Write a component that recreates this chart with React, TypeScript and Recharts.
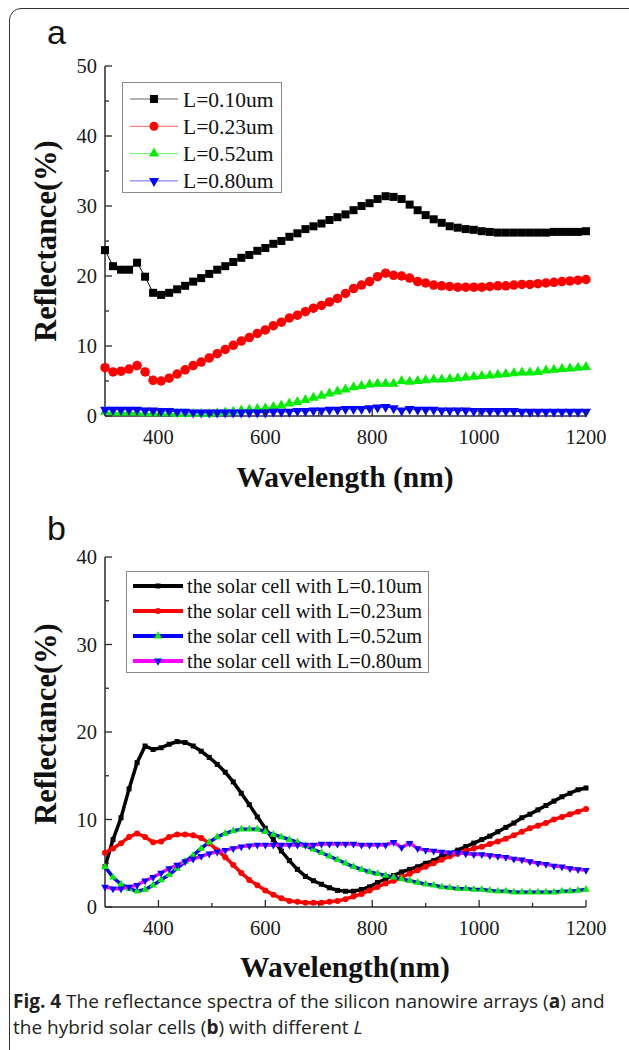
import React from 'react';
import { LineChart, Line, XAxis, YAxis } from 'recharts';

// ---------- data ----------
const wavelengths = [300, 315, 330, 345, 360, 375, 390, 405, 420, 435, 450, 465, 480, 495, 510, 525, 540, 555, 570, 585, 600, 615, 630, 645, 660, 675, 690, 705, 720, 735, 750, 765, 780, 795, 810, 825, 840, 855, 870, 885, 900, 915, 930, 945, 960, 975, 990, 1005, 1020, 1035, 1050, 1065, 1080, 1095, 1110, 1125, 1140, 1155, 1170, 1185, 1200];

// panel a: silicon nanowire arrays
const arrL010 = [23.7, 21.4, 20.9, 20.9, 21.9, 19.9, 17.6, 17.3, 17.6, 18.1, 18.6, 19.2, 19.7, 20.3, 20.9, 21.4, 22.0, 22.6, 23.0, 23.6, 24.0, 24.6, 25.0, 25.6, 26.1, 26.7, 27.1, 27.5, 28.0, 28.4, 28.8, 29.4, 30.0, 30.4, 31.0, 31.4, 31.3, 31.0, 30.2, 29.4, 28.7, 28.1, 27.6, 27.1, 26.9, 26.7, 26.6, 26.4, 26.3, 26.2, 26.2, 26.2, 26.2, 26.2, 26.2, 26.2, 26.3, 26.3, 26.3, 26.3, 26.4];
const arrL023 = [6.9, 6.3, 6.4, 6.7, 7.2, 6.3, 5.1, 5.0, 5.4, 6.0, 6.6, 7.2, 7.7, 8.3, 8.9, 9.5, 10.1, 10.7, 11.2, 11.8, 12.3, 12.9, 13.4, 14.0, 14.4, 14.9, 15.4, 15.8, 16.3, 16.8, 17.5, 18.2, 18.7, 19.2, 19.9, 20.4, 20.1, 20.0, 19.7, 19.2, 19.0, 18.7, 18.6, 18.5, 18.4, 18.4, 18.4, 18.4, 18.5, 18.6, 18.6, 18.7, 18.8, 18.8, 18.9, 19.0, 19.1, 19.2, 19.3, 19.4, 19.5];
const arrL052 = [0.6, 0.5, 0.5, 0.5, 0.5, 0.4, 0.4, 0.4, 0.4, 0.3, 0.3, 0.3, 0.3, 0.3, 0.4, 0.5, 0.6, 0.8, 0.9, 1.0, 1.1, 1.3, 1.5, 1.8, 2.0, 2.3, 2.6, 2.9, 3.2, 3.5, 3.8, 4.1, 4.3, 4.5, 4.6, 4.6, 4.6, 5.0, 4.9, 5.0, 5.1, 5.2, 5.2, 5.3, 5.4, 5.5, 5.6, 5.7, 5.8, 5.9, 6.0, 6.1, 6.2, 6.2, 6.3, 6.5, 6.6, 6.7, 6.8, 6.9, 7.0];
const arrL080 = [0.9, 0.9, 0.9, 0.9, 0.9, 0.8, 0.8, 0.7, 0.7, 0.6, 0.6, 0.5, 0.5, 0.5, 0.5, 0.5, 0.5, 0.5, 0.5, 0.5, 0.5, 0.6, 0.6, 0.6, 0.7, 0.7, 0.8, 0.8, 0.9, 0.9, 1.0, 1.0, 1.0, 1.1, 1.2, 1.3, 1.1, 0.8, 1.0, 0.9, 0.9, 0.9, 0.8, 0.8, 0.8, 0.8, 0.7, 0.7, 0.7, 0.7, 0.7, 0.7, 0.6, 0.6, 0.6, 0.6, 0.6, 0.6, 0.6, 0.6, 0.6];

// panel b: hybrid solar cells
const cellL010 = [4.6, 7.7, 10.2, 13.5, 16.5, 18.4, 18.0, 18.2, 18.6, 18.9, 18.8, 18.4, 17.8, 17.1, 16.3, 15.4, 14.3, 13.0, 11.7, 10.3, 9.0, 7.7, 6.4, 5.3, 4.3, 3.5, 3.0, 2.6, 2.2, 1.9, 1.8, 1.8, 2.0, 2.3, 2.8, 3.2, 3.6, 4.0, 4.3, 4.6, 5.0, 5.3, 5.8, 6.1, 6.5, 6.9, 7.3, 7.7, 8.1, 8.6, 9.1, 9.6, 10.2, 10.6, 11.1, 11.6, 12.1, 12.6, 13.0, 13.4, 13.6];
const cellL023 = [6.2, 6.7, 7.3, 8.0, 8.4, 8.0, 7.4, 7.5, 8.0, 8.3, 8.3, 8.2, 7.9, 7.3, 6.5, 5.7, 4.8, 3.9, 3.1, 2.5, 1.9, 1.4, 1.0, 0.7, 0.6, 0.5, 0.5, 0.5, 0.6, 0.7, 0.9, 1.2, 1.5, 1.9, 2.3, 2.7, 3.0, 3.4, 3.8, 4.2, 4.6, 5.0, 5.4, 5.8, 6.1, 6.4, 6.7, 6.9, 7.2, 7.5, 7.8, 8.2, 8.6, 9.0, 9.3, 9.6, 10.0, 10.3, 10.6, 10.9, 11.2];
const cellL052 = [4.6, 3.4, 2.6, 2.1, 1.8, 2.0, 2.5, 3.1, 3.7, 4.4, 5.2, 5.9, 6.7, 7.4, 8.0, 8.4, 8.7, 8.9, 8.9, 8.9, 8.6, 8.3, 8.0, 7.7, 7.4, 7.0, 6.6, 6.2, 5.8, 5.4, 5.0, 4.6, 4.3, 4.0, 3.8, 3.6, 3.4, 3.2, 3.0, 2.8, 2.6, 2.5, 2.3, 2.2, 2.1, 2.1, 2.0, 2.0, 1.9, 1.8, 1.8, 1.7, 1.7, 1.7, 1.7, 1.7, 1.7, 1.8, 1.8, 1.9, 2.0];
const cellL080 = [2.3, 2.1, 2.1, 2.3, 2.5, 3.0, 3.4, 3.9, 4.4, 4.8, 5.2, 5.5, 5.8, 6.1, 6.3, 6.5, 6.7, 6.9, 7.0, 7.1, 7.1, 7.1, 7.1, 7.1, 7.1, 7.1, 7.1, 7.2, 7.2, 7.2, 7.2, 7.2, 7.1, 7.1, 7.1, 7.1, 7.4, 6.8, 7.3, 6.7, 6.5, 6.4, 6.3, 6.2, 6.2, 6.1, 6.0, 6.0, 5.9, 5.8, 5.7, 5.5, 5.4, 5.2, 5.0, 4.9, 4.7, 4.6, 4.4, 4.3, 4.2];

const seriesNamesA = ['L=0.10um', 'L=0.23um', 'L=0.52um', 'L=0.80um'];
const seriesNamesB = [
  'the solar cell with L=0.10um',
  'the solar cell with L=0.23um',
  'the solar cell with L=0.52um',
  'the solar cell with L=0.80um',
];
const xTicks = [400, 500, 600, 700, 800, 900, 1000, 1100, 1200];
const yTicksA = [0, 5, 10, 15, 20, 25, 30, 35, 40, 45, 50];
const yTicksB = [0, 5, 10, 15, 20, 25, 30, 35, 40];

const rowsA = wavelengths.map((w, i) => ({ w, s1: arrL010[i], s2: arrL023[i], s3: arrL052[i], s4: arrL080[i] }));
const rowsB = wavelengths.map((w, i) => ({ w, s1: cellL010[i], s2: cellL023[i], s3: cellL052[i], s4: cellL080[i] }));

// ---------- styles ----------
const AXIS = '#2b2b2b';
const SERIF = '"Liberation Serif", "Times New Roman", serif';
const SANS = '"Liberation Sans", Arial, sans-serif';

type Shape = 'square' | 'circle' | 'up' | 'down';

const styleA = [
  { key: 's1', line: '#000000', fill: '#000000', shape: 'square' as Shape },
  { key: 's2', line: '#ff0000', fill: '#ff0000', shape: 'circle' as Shape },
  { key: 's3', line: '#00ee00', fill: '#00ee00', shape: 'up' as Shape },
  { key: 's4', line: '#0000ff', fill: '#0000ff', shape: 'down' as Shape },
];
const styleB = [
  { key: 's1', line: '#000000', fill: '#000000', shape: 'square' as Shape },
  { key: 's2', line: '#ff0000', fill: '#ff0000', shape: 'circle' as Shape },
  { key: 's3', line: '#0000ff', fill: '#00ee00', shape: 'up' as Shape },
  { key: 's4', line: '#ff00ff', fill: '#0000ff', shape: 'down' as Shape },
];

function markerEl(shape: Shape, cx: number, cy: number, s: number, fill: string, key?: string) {
  if (shape === 'square') return <rect key={key} x={cx - s / 2} y={cy - s / 2} width={s} height={s} fill={fill} />;
  if (shape === 'circle') return <circle key={key} cx={cx} cy={cy} r={s / 2} fill={fill} />;
  const h = s * 0.9;
  if (shape === 'up')
    return <path key={key} d={`M${cx},${cy - (h * 2) / 3} L${cx + s / 2},${cy + h / 3} L${cx - s / 2},${cy + h / 3} Z`} fill={fill} />;
  return <path key={key} d={`M${cx},${cy + (h * 2) / 3} L${cx + s / 2},${cy - h / 3} L${cx - s / 2},${cy - h / 3} Z`} fill={fill} />;
}

const makeDot = (shape: Shape, size: number, fill: string) => (p: any) => {
  if (p.cx == null || p.cy == null) return <g key={`e${p.index}`} />;
  return markerEl(shape, p.cx, p.cy, size, fill, `d${p.index}`);
};

const makeYTick = (majorStep: number) => (props: any) => {
  const { x, y, payload } = props;
  const v = payload.value;
  const major = v % majorStep === 0;
  return (
    <g>
      <line x1={x} x2={x + (major ? 7 : 4)} y1={y} y2={y} stroke={AXIS} strokeWidth={1.3} />
      {major && (
        <text x={x - 8} y={y} dy="0.35em" textAnchor="end" fontFamily={SERIF} fontSize={20.5} fill="#1a1a1a">
          {v}
        </text>
      )}
    </g>
  );
};

const XTick = (props: any) => {
  const { x, y, payload } = props;
  const v = payload.value;
  const major = v % 200 === 0;
  return (
    <g>
      <line x1={x} x2={x} y1={y} y2={y - (major ? 7 : 4)} stroke={AXIS} strokeWidth={1.3} />
      {major && (
        <text x={x} y={y + 21} dy="0.35em" textAnchor="middle" fontFamily={SERIF} fontSize={20.5} fill="#1a1a1a">
          {v}
        </text>
      )}
    </g>
  );
};

function Panel({ data, styles, yMax, yTicks, lineWidth, markerSize }: any) {
  return (
    <LineChart width={629} height={500} data={data} margin={{ top: 66, right: 43, left: 45, bottom: 54 }}>
      <XAxis
        dataKey="w"
        type="number"
        domain={[300, 1200]}
        ticks={xTicks}
        interval={0}
        height={30}
        tickSize={0}
        tickMargin={0}
        tick={XTick}
        axisLine={{ stroke: AXIS, strokeWidth: 1.5 }}
        tickLine={false}
      />
      <XAxis xAxisId="top" orientation="top" type="number" domain={[300, 1200]} height={0} tick={false} tickLine={false} axisLine={{ stroke: AXIS, strokeWidth: 1.5 }} />
      <YAxis
        type="number"
        domain={[0, yMax]}
        ticks={yTicks}
        interval={0}
        width={60}
        tickSize={0}
        tickMargin={0}
        tick={makeYTick(10)}
        axisLine={{ stroke: AXIS, strokeWidth: 1.5 }}
        tickLine={false}
      />
      <YAxis yAxisId="right" orientation="right" type="number" domain={[0, yMax]} width={0} tick={false} tickLine={false} axisLine={{ stroke: AXIS, strokeWidth: 1.5 }} />
      {styles.map((s: any, i: number) => (
        <Line
          key={s.key}
          dataKey={s.key}
          type="linear"
          stroke={s.line}
          strokeWidth={lineWidth}
          dot={makeDot(s.shape, markerSize[i], s.fill)}
          activeDot={false}
          isAnimationActive={false}
        />
      ))}
    </LineChart>
  );
}

function LegendBox({ left, top, width, height, names, styles, rowGap, firstRow, fontSize, lineWidth, lineStart, lineEnd, markerSize, textX }: any) {
  return (
    <div style={{ position: 'absolute', left, top, width, height, border: '1px solid #8a8a8a', boxSizing: 'border-box', background: '#fff' }}>
      <svg width={width} height={height} style={{ position: 'absolute', left: -1, top: -1, overflow: 'visible' }}>
        {names.map((n: string, i: number) => {
          const cy = firstRow + i * rowGap;
          const s = styles[i];
          const mid = (lineStart + lineEnd) / 2;
          return (
            <g key={n}>
              <line x1={lineStart} x2={lineEnd} y1={cy} y2={cy} stroke={s.line} strokeWidth={lineWidth} strokeOpacity={lineWidth < 2 ? 0.6 : 1} />
              {markerEl(s.shape, mid, cy, markerSize[i], s.fill)}
              <text x={textX} y={cy} dy="0.35em" fontFamily={SERIF} fontSize={fontSize} fill="#111">
                {n}
              </text>
            </g>
          );
        })}
      </svg>
    </div>
  );
}

function CenterText({ cx, cy, text, size, rotate, weight, family }: any) {
  return (
    <div
      style={{
        position: 'absolute',
        left: cx,
        top: cy,
        transform: `translate(-50%, -50%)${rotate ? ' rotate(-90deg)' : ''}`,
        whiteSpace: 'nowrap',
        fontFamily: family || SERIF,
        fontWeight: weight || 700,
        fontSize: size,
        lineHeight: 1,
        color: '#111',
      }}
    >
      {text}
    </div>
  );
}

export default function App() {
  return (
    <div style={{ position: 'absolute', left: 0, top: 0, width: 629, height: 1050, overflow: 'hidden', background: '#fff' }}>
      <div style={{ position: 'absolute', left: 9, top: 8, width: 640, height: 1100, border: '1.5px solid #333', borderRadius: 12, boxSizing: 'border-box' }} />

      {/* panel a */}
      <div style={{ position: 'absolute', left: 0, top: 0 }}>
        <Panel data={rowsA} styles={styleA} yMax={50} yTicks={yTicksA} lineWidth={1} markerSize={[8, 9.5, 10, 10]} />
      </div>
      <div style={{ position: 'absolute', left: 47, top: 12, fontFamily: SANS, fontSize: 34, lineHeight: '40px', color: '#111' }}>a</div>
      <CenterText cx={46} cy={241} text="Reflectance(%)" size={30.5} rotate />
      <CenterText cx={345} cy={478} text="Wavelength (nm)" size={29.5} />
      <LegendBox
        left={122}
        top={82}
        width={160}
        height={111}
        names={seriesNamesA}
        styles={styleA}
        rowGap={27.3}
        firstRow={17}
        fontSize={21.5}
        lineWidth={1}
        lineStart={8}
        lineEnd={56}
        markerSize={[8, 9, 10, 10]}
        textX={61}
      />

      {/* panel b */}
      <div style={{ position: 'absolute', left: 0, top: 491 }}>
        <Panel data={rowsB} styles={styleB} yMax={40} yTicks={yTicksB} lineWidth={3.5} markerSize={[5, 6, 7.5, 7.5]} />
      </div>
      <div style={{ position: 'absolute', left: 47, top: 508, fontFamily: SANS, fontSize: 34, lineHeight: '40px', color: '#111' }}>b</div>
      <CenterText cx={46} cy={724} text="Reflectance(%)" size={30.5} rotate />
      <CenterText cx={345} cy={968} text="Wavelength(nm)" size={29.5} />
      <LegendBox
        left={126}
        top={571}
        width={303}
        height={102}
        names={seriesNamesB}
        styles={styleB}
        rowGap={25}
        firstRow={15}
        fontSize={20.3}
        lineWidth={4}
        lineStart={7}
        lineEnd={57}
        markerSize={[5, 6, 8, 8]}
        textX={61}
      />

      {/* caption */}
      <div style={{ position: 'absolute', left: 13, top: 988, width: 602, fontFamily: '"Open Sans", "Noto Sans", sans-serif', fontSize: 19, lineHeight: '26px', color: '#231f20' }}>
        <b>Fig. 4</b> The reflectance spectra of the silicon nanowire arrays (<b>a</b>) and the hybrid solar cells (<b>b</b>) with different <i>L</i>
      </div>
    </div>
  );
}
